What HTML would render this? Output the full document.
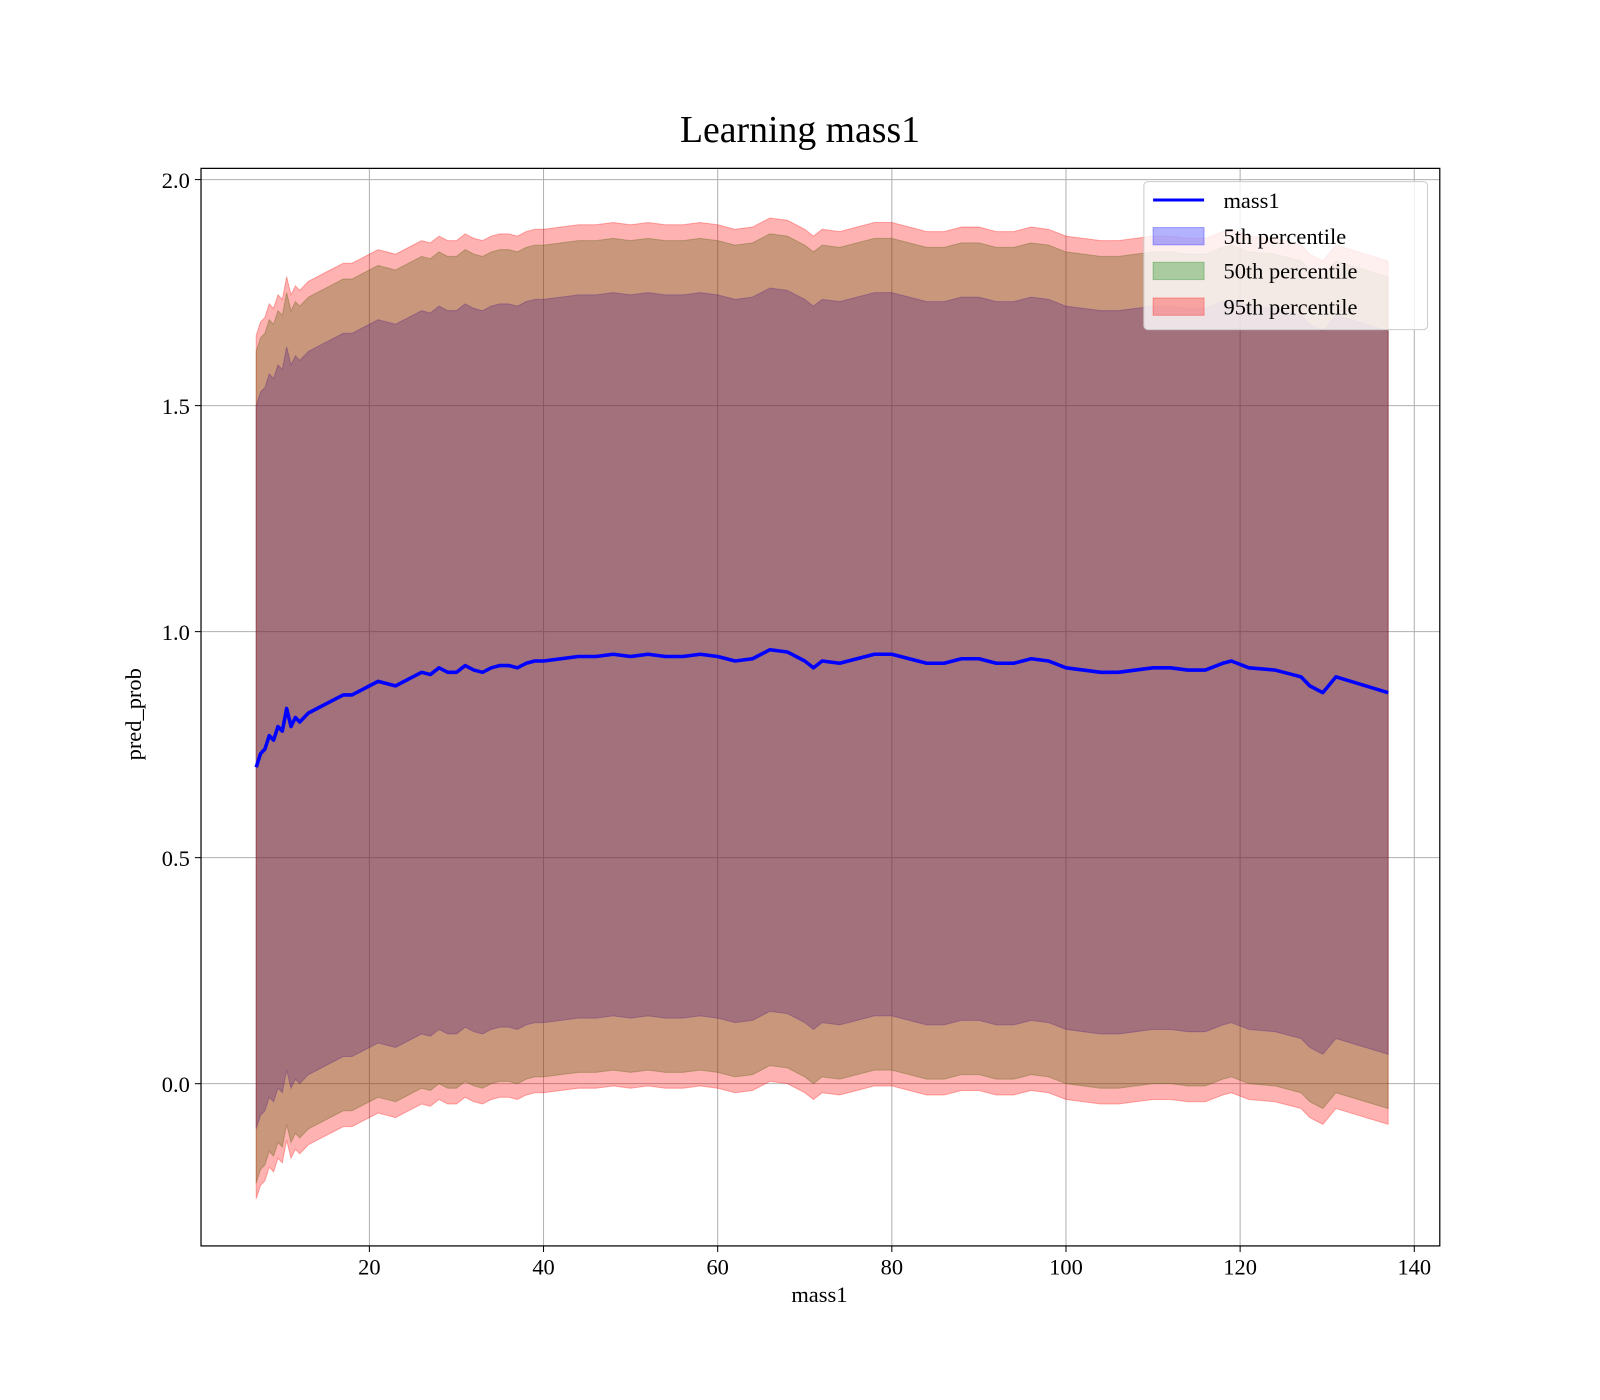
<!DOCTYPE html>
<html><head><meta charset="utf-8"><style>
body{margin:0;background:#fff}
svg{display:block;font-family:"Liberation Serif","DejaVu Serif",serif}
</style></head><body>
<svg id="chart" width="1600" height="1400" viewBox="0 0 1568 1372" preserveAspectRatio="none" xmlns="http://www.w3.org/2000/svg">
<rect width="1568" height="1372" fill="#fff"/>
<text x="784" y="139" font-size="37" text-anchor="middle">Learning mass1</text>
<g id="grid"></g>
<g id="bands"></g>
<g id="line"></g>
<rect x="197" y="165" width="1214" height="1056" fill="none" stroke="#000" stroke-width="1.2"/>
<g id="ticks"></g>
<text x="803" y="1276" font-size="22" text-anchor="middle">mass1</text>
<text x="138" y="700" font-size="22" text-anchor="middle" transform="rotate(-90 138 700)">pred_prob</text>
<g>
<rect x="1121" y="178" width="278" height="145" rx="4" fill="#fff" fill-opacity="0.8" stroke="#ccc"/>
<line x1="1130" y1="196" x2="1180" y2="196" stroke="#0000ff" stroke-width="3"/>
<text x="1199" y="204" font-size="22">mass1</text>
<rect x="1130" y="223" width="50" height="17" fill="#0000ff" fill-opacity="0.3" stroke="#0000ff" stroke-opacity="0.3"/>
<text x="1199" y="239" font-size="22">5th percentile</text>
<rect x="1130" y="257" width="50" height="17" fill="#008000" fill-opacity="0.3" stroke="#008000" stroke-opacity="0.3"/>
<text x="1199" y="273" font-size="22">50th percentile</text>
<rect x="1130" y="292" width="50" height="17" fill="#ff0000" fill-opacity="0.3" stroke="#ff0000" stroke-opacity="0.3"/>
<text x="1199" y="308" font-size="22">95th percentile</text>
</g>
</svg>
<script>
const xValues=[7,7.5,8,8.5,9,9.5,10,10.5,11,11.5,12,13,14,15,16,17,18,19,20,21,22,23,24,25,26,27,28,29,30,31,32,33,34,35,36,37,38,39,40,42,44,46,48,50,52,54,56,58,60,62,64,66,68,70,71,72,74,76,78,80,82,84,86,88,90,92,94,96,98,100,102,104,106,108,110,112,114,116,118,119,121,124,126,127,128,129.5,131,137];
const meanValues=[0.70,0.73,0.74,0.77,0.76,0.79,0.78,0.83,0.79,0.81,0.80,0.82,0.83,0.84,0.85,0.86,0.86,0.87,0.88,0.89,0.885,0.88,0.89,0.90,0.91,0.905,0.92,0.91,0.91,0.925,0.915,0.91,0.92,0.925,0.925,0.92,0.93,0.935,0.935,0.94,0.945,0.945,0.95,0.945,0.95,0.945,0.945,0.95,0.945,0.935,0.94,0.96,0.955,0.935,0.92,0.935,0.93,0.94,0.95,0.95,0.94,0.93,0.93,0.94,0.94,0.93,0.93,0.94,0.935,0.92,0.915,0.91,0.91,0.915,0.92,0.92,0.915,0.915,0.93,0.935,0.92,0.915,0.905,0.9,0.88,0.865,0.9,0.865];
const bandHalfWidths=[0.80,0.92,0.955];
const bandNames=["band-5th-percentile","band-50th-percentile","band-95th-percentile"];
const bandColors=["#0000ff","#008000","#ff0000"];
const xTicks=[20,40,60,80,100,120,140];
const yTicks=[0.0,0.5,1.0,1.5,2.0];
const yTickLabels=["0.0","0.5","1.0","1.5","2.0"];
const NS="http://www.w3.org/2000/svg";
const xs=v=>191.33+v*8.5333;
const ys=v=>1062-v*443;
function mk(tag,attrs,parent){const e=document.createElementNS(NS,tag);for(const k in attrs)e.setAttribute(k,attrs[k]);parent.appendChild(e);return e;}
const grid=document.getElementById('grid'),ticks=document.getElementById('ticks');
xTicks.forEach(t=>{
 const g=mk('line',{x1:xs(t),x2:xs(t),y1:165,y2:1221,stroke:'#b0b0b0','stroke-width':1},grid);
 
 
 const tk=mk('line',{x1:xs(t),x2:xs(t),y1:1221,y2:1227,stroke:'#000'},ticks);
 
 
 const tl=mk('text',{x:xs(t),y:1249,'font-size':22,'text-anchor':'middle'},ticks);
 tl.textContent=t;
 
 
});
yTicks.forEach((t,i)=>{
 const g=mk('line',{x1:197,x2:1411,y1:ys(t),y2:ys(t),stroke:'#b0b0b0','stroke-width':1},grid);
 
 
 const tk=mk('line',{x1:191,x2:197,y1:ys(t),y2:ys(t),stroke:'#000'},ticks);
 
 
 const tl=mk('text',{x:186,y:ys(t)+8,'font-size':22,'text-anchor':'end'},ticks);
 tl.textContent=yTickLabels[i];
 
 
});
const bands=document.getElementById('bands');
bandHalfWidths.forEach((w,b)=>{
 let up=xValues.map((x,i)=>xs(x)+','+ys(meanValues[i]+w));
 let lo=xValues.map((x,i)=>xs(x)+','+ys(meanValues[i]-w)).reverse();
 const p=mk('polygon',{points:up.concat(lo).join(' '),fill:bandColors[b],'fill-opacity':0.3,stroke:bandColors[b],'stroke-opacity':0.3},bands);
 
 
});
const ln=mk('polyline',{points:xValues.map((x,i)=>xs(x)+','+ys(meanValues[i])).join(' '),fill:'none',stroke:'#0000ff','stroke-width':3.5,'stroke-linejoin':'round'},document.getElementById('line'));


</script>
</body></html>
